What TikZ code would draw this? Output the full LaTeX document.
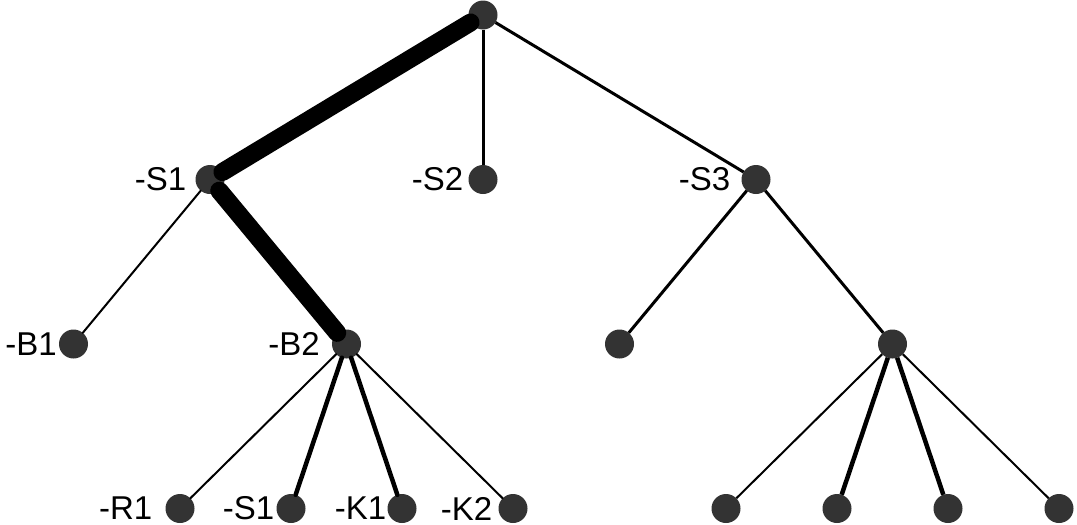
\documentclass[tikz,border=0pt]{standalone}
\usepackage{fontspec}
\setmainfont{Liberation Sans}
\usepackage{tikz}

\begin{document}
\begin{tikzpicture}[level distance=164.5pt,
      level 1/.style={sibling distance=273pt},
      level 2/.style={sibling distance=273pt},
      level 3/.style={sibling distance=111pt},
      dot/.style={circle, fill=black!80, minimum size=29pt, inner sep=0pt, outer sep=0pt},
      lbl/.style 2 args={label={[label distance=#2, inner sep=0pt, font=\fontsize{33}{39}\selectfont]left:{#1}}},
      edge from parent/.style={draw, line width=3pt},
      heavy/.style={line width=18pt, line cap=round},
      medium/.style={line width=4.5pt},
      light/.style={line width=2pt}]
    \useasboundingbox (0pt,0pt) rectangle (1077pt,-525pt);
    \node[dot] (root) at (483pt,-15pt) {}
      child {node[dot, lbl={-S1}{9pt}] (s1) {}
        child {node[dot, lbl={-B1}{2pt}] (b1) {} edge from parent[light]}
        child {node[dot, lbl={-B2}{12pt}] (b2) {}
          child {node[dot, lbl={-R1}{13pt}] (r1) {} edge from parent[light]}
          child {node[dot, lbl={-S1}{2pt}] (s11) {} edge from parent[medium]}
          child {node[dot, lbl={-K1}{1pt}] (k1) {} edge from parent[medium]}
          child {node[dot, lbl={-K2}{6pt}] (k2) {} edge from parent[light]}
          edge from parent[heavy]}
        edge from parent[heavy]}
      child {node[dot, lbl={-S2}{5pt}] (s2) {}}
      child {node[dot, lbl={-S3}{11pt}] (s3) {}
        child {node[dot] (c1) {}}
        child {node[dot] (c2) {}
          child {node[dot] (d1) {} edge from parent[light]}
          child {node[dot] (d2) {} edge from parent[medium]}
          child {node[dot] (d3) {} edge from parent[medium]}
          child {node[dot] (d4) {} edge from parent[light]}
        }
      };
\end{tikzpicture}
\end{document}
